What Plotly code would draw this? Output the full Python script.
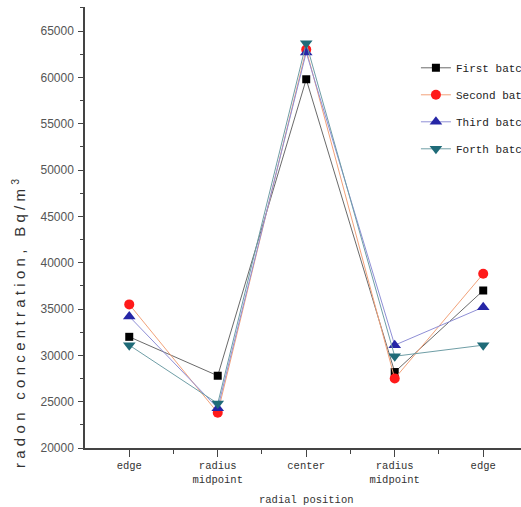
import plotly.graph_objects as go

# Radial sampling positions across the pile
positions = ["edge", "radius<br>midpoint", "center", "radius<br>midpoint", "edge"]
x_index = [1, 2, 3, 4, 5]

# Radon concentration (Bq/m3) for each batch
first_batch = [32000, 27800, 59800, 28200, 37000]
second_batch = [35500, 23800, 63000, 27500, 38800]
third_batch = [34200, 24300, 62700, 31100, 35200]
forth_batch = [31100, 24800, 63700, 29900, 31100]

series = [
    ("First batch", first_batch, "square", "#000000", "#6a6a6a", 8),
    ("Second batch", second_batch, "circle", "#ff1a1a", "#f2a27a", 10),
    ("Third batch", third_batch, "triangle-up", "#2626a6", "#8f8fd6", 11),
    ("Forth batch", forth_batch, "triangle-down", "#1f6b78", "#6f9ea6", 11),
]

fig = go.Figure()
for i, (name, vals, sym, mcol, lcol, msize) in enumerate(series):
    fig.add_trace(go.Scatter(
        x=x_index, y=vals, name=name, mode="lines+markers",
        legendgroup=f"g{i}",
        line=dict(color=lcol, width=1),
        marker=dict(symbol=sym, color=mcol, size=msize, line=dict(width=0)),
    ))

axis_color = "#444444"
mono = "Liberation Mono, DejaVu Sans Mono, monospace"

fig.update_layout(
    width=521, height=507,
    margin=dict(l=85, r=0, t=7, b=59, autoexpand=False),
    paper_bgcolor="white", plot_bgcolor="white",
    showlegend=True,
    legend=dict(
        x=0.759, y=0.895, xanchor="left", yanchor="top",
        bgcolor="rgba(0,0,0,0)", borderwidth=0,
        font=dict(family=mono, size=11, color="#222222"),
        tracegroupgap=8, itemwidth=30,
    ),
    xaxis=dict(
        range=[0.5, 5.427], tickmode="array", tickvals=x_index, ticktext=positions,
        showline=True, linecolor=axis_color, linewidth=1.5,
        ticks="outside", ticklen=7, tickwidth=1.2, tickcolor=axis_color,
        minor=dict(tickvals=[1.5, 2.5, 3.5, 4.5], ticks="outside", ticklen=4,
                   tickwidth=1.2, tickcolor=axis_color),
        showgrid=False, zeroline=False,
        tickfont=dict(family=mono, size=10.5, color="#333333"),
    ),
    yaxis=dict(
        range=[20000, 67600], tickmode="linear", tick0=20000, dtick=5000,
        tickformat="d",
        showline=True, linecolor=axis_color, linewidth=1.5,
        ticks="outside", ticklen=5, tickwidth=1.2, tickcolor=axis_color,
        minor=dict(tick0=22500, dtick=5000, ticks="outside", ticklen=3,
                   tickwidth=1.2, tickcolor=axis_color),
        showgrid=False, zeroline=False, ticklabelstandoff=2,
        tickfont=dict(family="Liberation Sans, Arial, sans-serif", size=12, color="#555555"),
    ),
    annotations=[
        dict(
            text='<span style="letter-spacing:4.3px">radon concentration, Bq/m<sup>3</sup></span>',
            xref="paper", yref="paper", x=-0.154, y=0.2875,
            xanchor="center", yanchor="middle", textangle=-90, showarrow=False,
            font=dict(family="Liberation Sans, Arial, sans-serif", size=15, color="#333333"),
        ),
        dict(
            text="radial position", xref="x", yref="paper", x=3, y=-0.119,
            xanchor="center", yanchor="middle", showarrow=False,
            font=dict(family=mono, size=10.5, color="#333333"),
        ),
    ],
)

fig.write_html("out.html")
